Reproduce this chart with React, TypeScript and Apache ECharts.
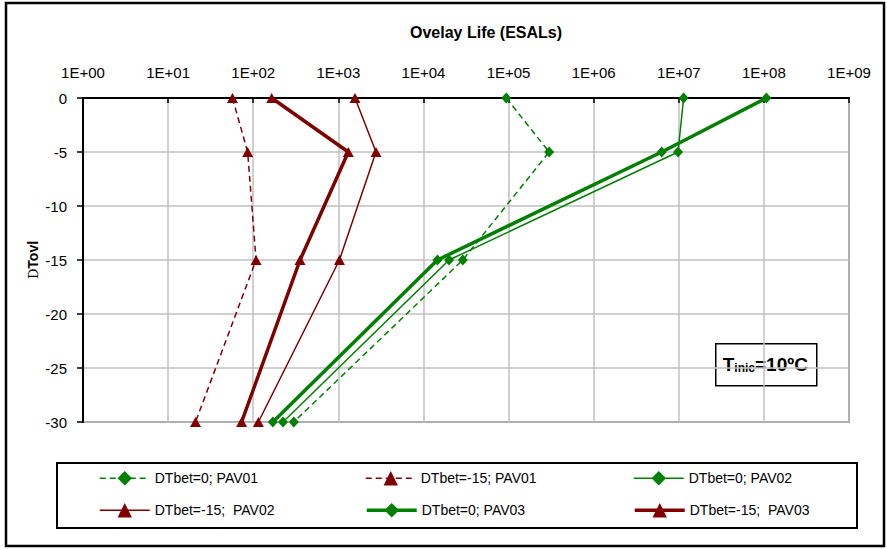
import React, { useEffect, useRef } from "react";
import * as echarts from "echarts";

const xTickLabels = ["1E+00", "1E+01", "1E+02", "1E+03", "1E+04", "1E+05", "1E+06", "1E+07", "1E+08", "1E+09"];
const depths = [0, -5, -15, -30];

const green01 = [9.4e4, 3.0e5, 2.9e4, 300];
const red01 = [57, 86, 108, 21];
const green02 = [1.14e7, 9.8e6, 2.0e4, 224];
const red02 = [1570, 2770, 1030, 115];
const green03 = [1.07e8, 6.3e6, 1.46e4, 170];
const red03 = [165, 1310, 355, 73];

const seriesNames = [
  "DTbet=0; PAV01",
  "DTbet=-15; PAV01",
  "DTbet=0; PAV02",
  "DTbet=-15;  PAV02",
  "DTbet=0; PAV03",
  "DTbet=-15;  PAV03",
];

const GREEN = "#008000";
const RED = "#800000";
const FONT = "Liberation Sans, Arial, sans-serif";

function pairs(xs: number[]) {
  return xs.map((x, i) => [x, depths[i]]);
}

export default function App() {
  const ref = useRef<HTMLDivElement>(null);
  useEffect(() => {
    document.body.style.margin = "0";
    const chart = echarts.init(ref.current!, undefined, { renderer: "svg" });
    const styles = [
      { color: GREEN, width: 1.5, dashed: true, symbol: "diamond", xs: green01 },
      { color: RED, width: 1.5, dashed: true, symbol: "triangle", xs: red01 },
      { color: GREEN, width: 1.5, dashed: false, symbol: "diamond", xs: green02 },
      { color: RED, width: 1.5, dashed: false, symbol: "triangle", xs: red02 },
      { color: GREEN, width: 3.5, dashed: false, symbol: "diamond", xs: green03 },
      { color: RED, width: 3.5, dashed: false, symbol: "triangle", xs: red03 },
    ];
    const series = styles.map((s, i) => ({
      name: seriesNames[i],
      type: "line",
      data: pairs(s.xs),
      symbol: s.symbol,
      symbolSize: s.symbol === "diamond" ? [10, 11] : [11, 10],
      showSymbol: true,
      itemStyle: { color: s.color },
      lineStyle: { color: s.color, width: s.width, type: s.dashed ? [6, 4] : "solid" },
      emphasis: { disabled: true },
      z: s.width > 2 ? 3 : 2,
    }));
    const legendPos = [
      [99, 480],
      [365, 480],
      [633, 480],
      [99, 512],
      [365, 512],
      [633, 512],
    ];
    const legends = seriesNames.map((n, i) => ({
      data: [n],
      left: legendPos[i][0],
      top: legendPos[i][1] - 9,
      padding: 0,
      itemWidth: 50,
      itemHeight: 18,
      itemGap: 5,
      selectedMode: false,
      lineStyle: { width: styles[i].width, type: styles[i].dashed ? [6, 4] : "solid", color: styles[i].color },
      textStyle: { fontFamily: FONT, fontSize: 14, color: "#000" },
    }));
    chart.setOption({
      animation: false,
      backgroundColor: "#fff",
      title: {
        text: "Ovelay Life (ESALs)",
        left: 481,
        top: 19,
        textAlign: "center",
        textStyle: { fontFamily: FONT, fontSize: 16, fontWeight: "bold", color: "#000" },
      },
      legend: legends,
      grid: {
        left: 83,
        right: 38,
        top: 98,
        bottom: 127,
        show: true,
        borderColor: "#808080",
        borderWidth: 2,
        backgroundColor: "transparent",
      },
      xAxis: {
        type: "log",
        logBase: 10,
        position: "top",
        min: 1,
        max: 1e9,
        axisLine: { lineStyle: { color: "#000", width: 2 } },
        axisTick: { inside: true, length: 5, lineStyle: { color: "#000", width: 1.5 } },
        minorTick: { show: false },
        splitLine: { show: true, lineStyle: { color: "#c0c0c0", width: 1.5 } },
        axisLabel: {
          margin: 18,
          fontFamily: FONT,
          fontSize: 15,
          color: "#000",
          formatter: (v: number) => xTickLabels[Math.round(Math.log10(v))] ?? "",
        },
      },
      yAxis: {
        type: "value",
        min: -30,
        max: 0,
        interval: 5,
        name: "{d|D}{t|Tovl}",
        nameLocation: "middle",
        nameGap: 43,
        nameMoveOverlap: false,
        nameRotate: 90,
        nameTextStyle: {
          rich: {
            d: { fontFamily: "DejaVu Serif, serif", fontSize: 13, color: "#000" },
            t: { fontFamily: FONT, fontSize: 14, fontWeight: "bold", color: "#000" },
          },
        },
        axisLine: { show: true, lineStyle: { color: "#000", width: 2 } },
        axisTick: { show: true, inside: false, length: 6, lineStyle: { color: "#000", width: 1.5 } },
        splitLine: { show: true, lineStyle: { color: "#c0c0c0", width: 1.5 } },
        axisLabel: { margin: 16, fontFamily: FONT, fontSize: 15, color: "#000" },
      },
      graphic: [
        {
          type: "rect",
          shape: { x: 6, y: 3, width: 878, height: 543 },
          style: { fill: "none", stroke: "#000", lineWidth: 2.5 },
          z: 100,
          silent: true,
        },
        {
          type: "rect",
          shape: { x: 57, y: 463, width: 800, height: 65 },
          style: { fill: "none", stroke: "#000", lineWidth: 2 },
          silent: true,
        },
        {
          type: "group",
          left: 715,
          top: 343,
          z: 50,
          children: [
            {
              type: "rect",
              shape: { x: 0, y: 0, width: 101, height: 42 },
              style: { fill: "#fff", stroke: "#000", lineWidth: 1.5 },
            },
            {
              type: "text",
              x: 7,
              y: 21,
              style: {
                text: "{b|T}{s|inic}{b|=10ºC}",
                verticalAlign: "middle",
                rich: {
                  b: { fontFamily: FONT, fontSize: 19, fontWeight: "bold", fill: "#000", verticalAlign: "bottom" },
                  s: { fontFamily: FONT, fontSize: 12, fontWeight: "bold", fill: "#000", verticalAlign: "bottom" },
                },
              },
            },
          ],
        },
      ],
      series,
    });
    return () => chart.dispose();
  }, []);
  return <div ref={ref} style={{ width: 887, height: 549 }} />;
}
